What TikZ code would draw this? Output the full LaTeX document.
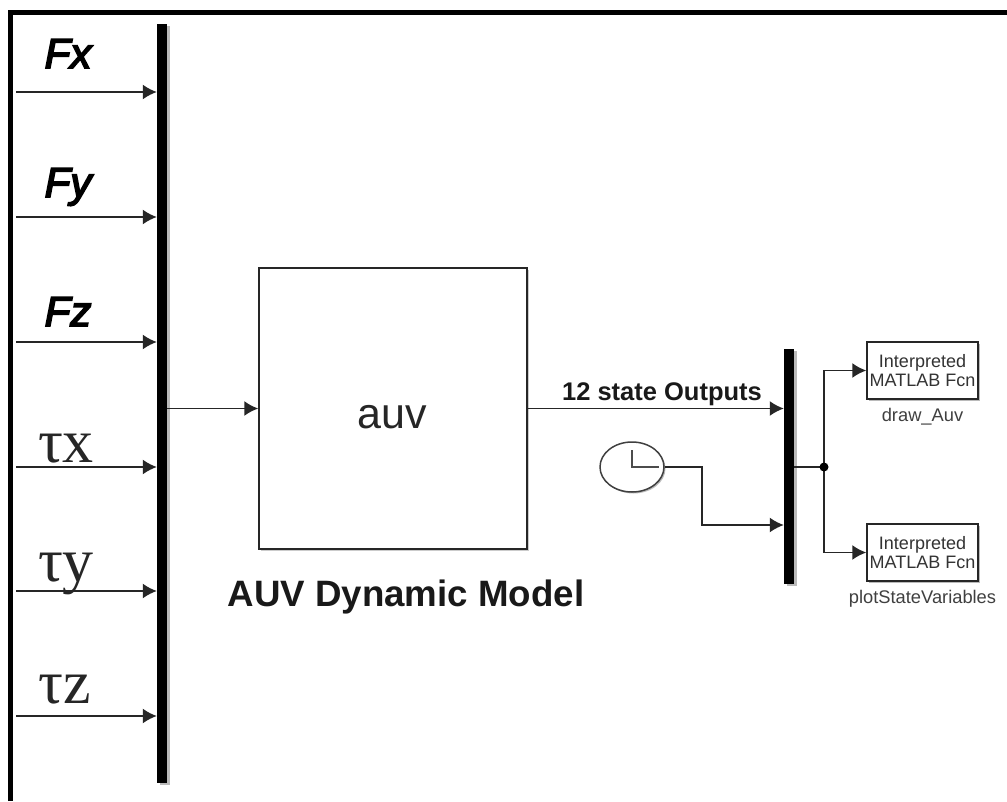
\documentclass[tikz,border=0pt]{standalone}
\usepackage{fontspec}
\setmainfont{Liberation Sans}
\newfontfamily\taufont{Liberation Serif}
\newfontfamily\forcefont[UprightFont=* Italic, FakeBold=4]{Liberation Sans}
\usepackage{tikz}
\usetikzlibrary{shadows}
\usetikzlibrary{positioning}
\usetikzlibrary{arrows.meta,shapes}
\usetikzlibrary{calc}
\tikzset{
 sig/.style={draw=black!85, line width=1.7pt, -{Latex[length=14pt,width=15pt]}},
 wire/.style={draw=black!85, line width=1.7pt},
 muxbar/.style={fill=black, draw=none, inner sep=0pt, minimum width=10pt, drop shadow={shadow xshift=2.5pt, shadow yshift=-1.5pt, fill=black!45, opacity=.6}},
 fcnbox/.style={draw=black!85, line width=1.5pt, fill=white, inner sep=0pt, minimum width=111pt, minimum height=57pt, align=center, font=\fontsize{18}{19.5}\selectfont, text=black!80, drop shadow={shadow xshift=1.5pt, shadow yshift=-1.5pt, fill=black!45, opacity=.6}},
 fcnname/.style={font=\fontsize{18.3}{20}\selectfont, text=black!75},
 flabel/.style={anchor=base, font=\fontsize{42}{45}\selectfont\forcefont},
 taulabel/.style={anchor=base, font=\fontsize{62}{66}\selectfont\taufont, text=black!85},
}
\begin{document}
\begin{tikzpicture}[x=1pt, y=-1pt]
 \useasboundingbox (0,0) rectangle (1007,801);
 \fill[white] (0,0) rectangle (1007,801);
 %frame
 \path[draw, line width=5.5pt] (10.5,801) -- (10.5,12.5) -- (1007,12.5);

 %bars
 \node[muxbar, minimum height=759pt] (mux) at (162,403.5) {};
 \node[muxbar, minimum height=235pt] (mux2) at (789,466.5) {};

 %inputs
 \coordinate (in1) at (16,92);
 \coordinate (in2) at (16,217);
 \coordinate (in3) at (16,342);
 \coordinate (in4) at (16,467);
 \coordinate (in5) at (16,591);
 \coordinate (in6) at (16,716);
 \path[sig] (in1) -- (in1 -| mux.west);
 \path[sig] (in2) -- (in2 -| mux.west);
 \path[sig] (in3) -- (in3 -| mux.west);
 \path[sig] (in4) -- (in4 -| mux.west);
 \path[sig] (in5) -- (in5 -| mux.west);
 \path[sig] (in6) -- (in6 -| mux.west);

 %labels
 \node[flabel] (fx) at (68,68) {Fx};
 \node[flabel] (fy) at (68,197) {Fy};
 \node[flabel] (fz) at (68,326) {Fz};
 \node[taulabel] (tx) at (66,462) {τx};
 \node[taulabel] (ty) at (66,581) {τy};
 \node[taulabel] (tz) at (65,703) {τz};

 %model
 \node[draw=black!85, line width=1.5pt, fill=white, inner sep=0pt, minimum width=268pt, minimum height=281pt, drop shadow={shadow xshift=1.5pt, shadow yshift=-1.5pt, fill=black!40, opacity=.5}] (auv) at (393,408.5) {};
 \node[anchor=base, font=\fontsize{43}{47}\selectfont, text=black!85] (auvname) at (392,428) {auv};
 \node[anchor=base, font=\fontsize{36.7}{40}\selectfont\bfseries, text=black!90] (modelname) at (406,606) {AUV Dynamic Model};
 \path[sig] (auv.west -| mux.east) -- (auv.west);
 \path[sig] (auv.east) -- (auv.east -| mux2.west);
 \node[anchor=base, font=\fontsize{25.5}{29}\selectfont\bfseries, text=black!90] (outname) at (662,400) {12 state Outputs};

 %clock
 \node[draw=black!75, line width=1.5pt, fill=white, ellipse, inner sep=0pt, minimum width=64pt, minimum height=50pt, drop shadow={shadow xshift=1.5pt, shadow yshift=-1.5pt, fill=black!45, opacity=.6}] (clk) at (632,467) {};
 \coordinate (clktop) at (632,450);
 \coordinate (clkhand) at (659,467);
 \path[wire, draw=black!70] (clktop) -- (clk.center) -- (clkhand);
 \coordinate (clkbend) at (702,525);
 \path[sig] (clk.east) -| (clkbend) -- (clkbend -| mux2.west);

 %outputs
 \node[fcnbox] (fcn1) at (922.5,370.5) {Interpreted\\MATLAB Fcn};
 \node[fcnbox] (fcn2) at (922.5,552.5) {Interpreted\\MATLAB Fcn};
 \node[fcnname] (fcn1name) at (922.5,417) {draw\_Auv};
 \node[fcnname] (fcn2name) at (922.5,599) {plotStateVariables};
 \coordinate (jn) at (824,467);
 \path[wire] (clk.east -| mux2.east) -- (jn);
 \path[sig] (jn) |- (fcn1.west);
 \path[sig] (jn) |- (fcn2.west);
 \fill (jn) circle (4.5pt);
\end{tikzpicture}
\end{document}
